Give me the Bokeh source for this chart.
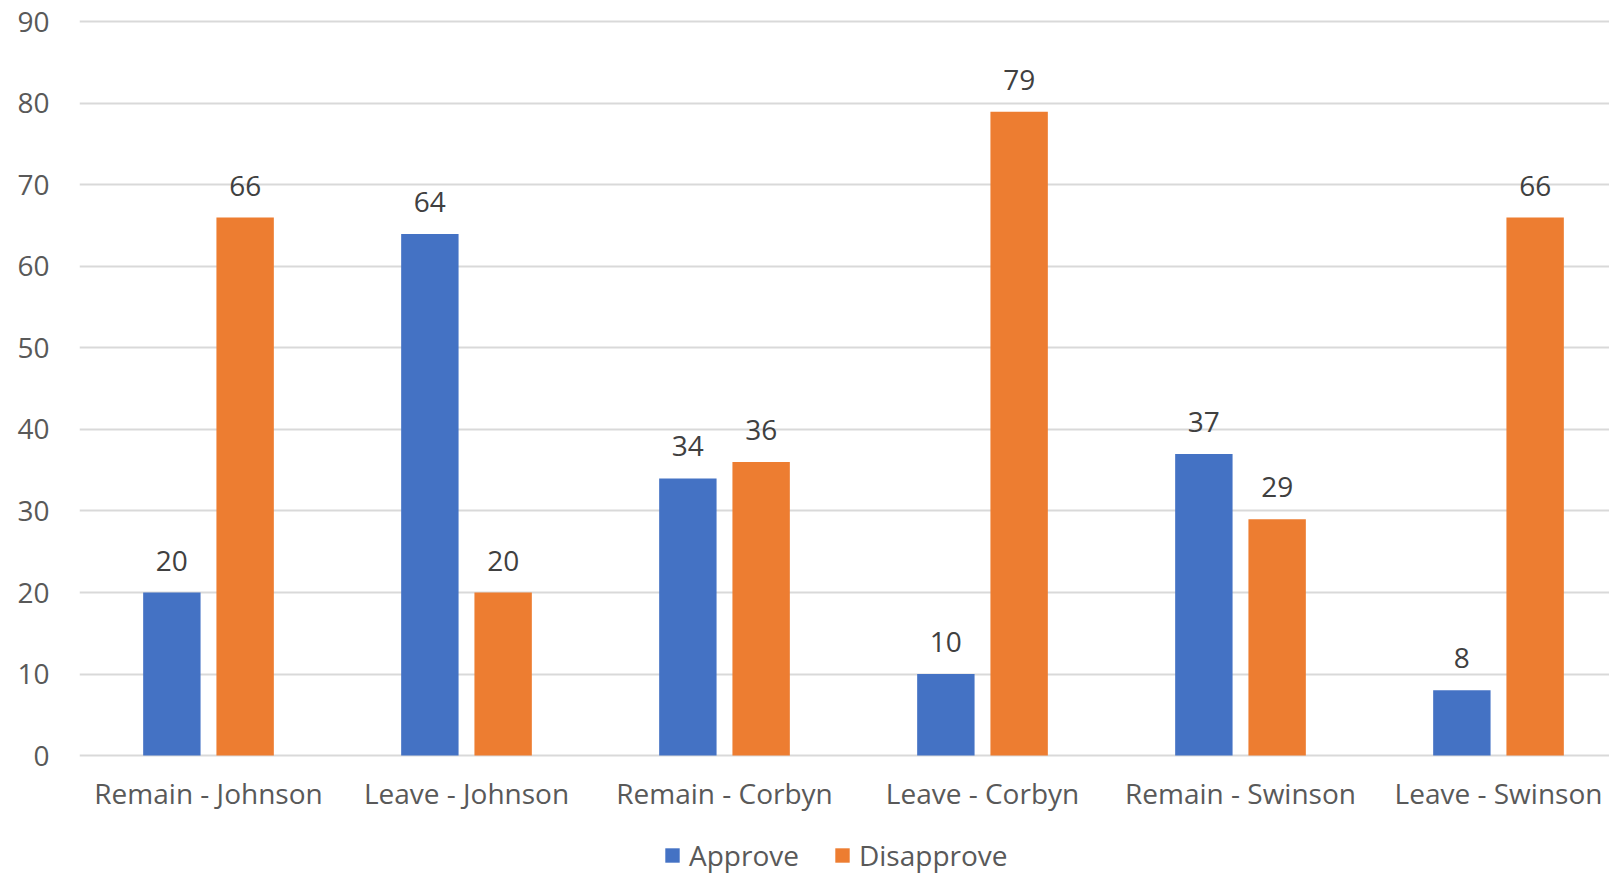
from bokeh.plotting import figure
from bokeh.models import ColumnDataSource, FixedTicker, Legend, LegendItem, Range1d
from bokeh.core.properties import value
from bokeh.embed import file_html
from bokeh.resources import INLINE

categories = ["Remain - Johnson", "Leave - Johnson", "Remain - Corbyn",
              "Leave - Corbyn", "Remain - Swinson", "Leave - Swinson"]
approve = [20, 64, 34, 10, 37, 8]
disapprove = [66, 20, 36, 79, 29, 66]
y_ticks = [0, 10, 20, 30, 40, 50, 60, 70, 80, 90]

BLUE = "#4472C4"
ORANGE = "#ED7D31"
FONT = "Open Sans"

centers = [i + 0.5 for i in range(len(categories))]
off = 0.142
bw = 0.2225

src_a = ColumnDataSource(dict(x=[c - off for c in centers], top=approve,
                              lbl=[str(v) for v in approve]))
src_d = ColumnDataSource(dict(x=[c + off for c in centers], top=disapprove,
                              lbl=[str(v) for v in disapprove]))
src_c = ColumnDataSource(dict(x=centers, y=[0] * len(categories), lbl=categories))

p = figure(frame_width=1530, frame_height=857, output_backend="svg", toolbar_location=None,
           x_range=Range1d(0, 1530 / 258.0), y_range=Range1d(-14.6, 90.55),
           min_border_left=79, min_border_right=0, min_border_top=17,
           min_border_bottom=0)
p.outline_line_color = None
p.background_fill_color = "white"
p.border_fill_color = "white"

r_a = p.vbar(x="x", top="top", width=bw, source=src_a, fill_color=BLUE, line_color=None)
r_d = p.vbar(x="x", top="top", width=bw, source=src_d, fill_color=ORANGE, line_color=None)

for s in (src_a, src_d):
    p.text(x="x", y="top", text="lbl", source=s, text_align="center",
           text_baseline="middle", y_offset=-32, text_font=value(FONT),
           text_font_size="28px", text_color="#404040")

# category labels under the baseline
p.text(x="x", y="y", text="lbl", source=src_c, text_align="center",
       text_baseline="middle", y_offset=37, text_font=value(FONT),
       text_font_size="28px", text_color="#595959")

p.xaxis.visible = False

p.yaxis.ticker = FixedTicker(ticks=y_ticks)
p.yaxis.major_tick_line_color = None
p.yaxis.minor_tick_line_color = None
p.yaxis.axis_line_color = None
p.yaxis.major_label_text_font = FONT
p.yaxis.major_label_text_font_size = "28px"
p.yaxis.major_label_text_color = "#595959"
p.yaxis.major_label_standoff = 24

p.xgrid.grid_line_color = None
p.ygrid.ticker = FixedTicker(ticks=y_ticks)
p.ygrid.grid_line_color = "#d9d9d9"
p.ygrid.grid_line_width = 2

legend = Legend(items=[LegendItem(label="Approve", renderers=[r_a]),
                       LegendItem(label="Disapprove", renderers=[r_d])],
                orientation="horizontal", location=(584, 0),
                glyph_width=18, glyph_height=18, label_standoff=8, spacing=34,
                label_text_font=FONT, label_text_font_size="28px",
                label_text_color="#595959", border_line_color=None,
                background_fill_alpha=0, padding=0, margin=0)
p.add_layout(legend, "center")

open("out.html", "w").write(file_html(p, INLINE))
